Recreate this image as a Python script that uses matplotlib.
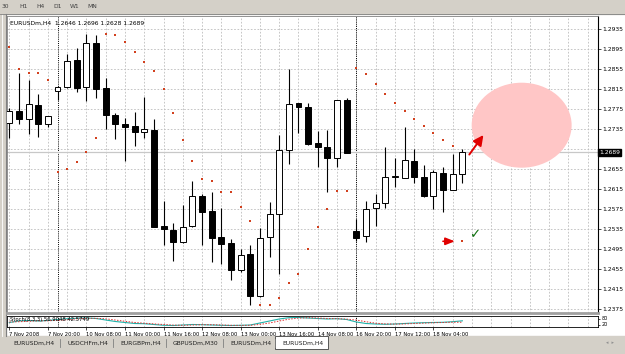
import matplotlib
matplotlib.use("Agg")
import matplotlib.pyplot as plt
from matplotlib.patches import Ellipse, Rectangle

# ---- data (EURUSDm, H4) ----
opens = [1.2748, 1.2772, 1.2756, 1.2784, 1.2745, 1.2812, 1.2820, 1.2873, 1.2819, 1.2907,
         1.2818, 1.2763, 1.2745, 1.2742, 1.2730, 1.2733, 1.2542, 1.2534, 1.2510, 1.2541,
         1.2602, 1.2571, 1.2519, 1.2508, 1.2454, 1.2485, 1.2401, 1.2519, 1.2565, 1.2693,
         1.2787, 1.2780, 1.2707, 1.2699, 1.2678, 1.2794, 1.2532, 1.2521, 1.2577, 1.2587,
         1.2639, 1.2637, 1.2672, 1.2640, 1.2601, 1.2647, 1.2613, 1.2646]
highs = [1.2778, 1.2848, 1.2834, 1.2806, 1.2762, 1.2822, 1.2885, 1.2897, 1.2925, 1.2924,
         1.2837, 1.2767, 1.2757, 1.2769, 1.2800, 1.2755, 1.2592, 1.2547, 1.2584, 1.2632,
         1.2605, 1.2610, 1.2577, 1.2516, 1.2496, 1.2504, 1.2537, 1.2589, 1.2723, 1.2855,
         1.2788, 1.2788, 1.2732, 1.2734, 1.2794, 1.2797, 1.2556, 1.2592, 1.2606, 1.2699,
         1.2678, 1.2740, 1.2695, 1.2663, 1.2654, 1.2660, 1.2686, 1.2696]
lows = [1.2717, 1.2745, 1.2726, 1.2720, 1.2740, 1.2794, 1.2817, 1.2810, 1.2792, 1.2797,
        1.2736, 1.2715, 1.2672, 1.2702, 1.2717, 1.2539, 1.2504, 1.2472, 1.2508, 1.2539,
        1.2503, 1.2470, 1.2465, 1.2434, 1.2450, 1.2384, 1.2399, 1.2480, 1.2446, 1.2666,
        1.2727, 1.2703, 1.2660, 1.2610, 1.2659, 1.2687, 1.2512, 1.2510, 1.2542, 1.2577,
        1.2619, 1.2637, 1.2628, 1.2599, 1.2576, 1.2569, 1.2613, 1.2628]
closes = [1.2772, 1.2755, 1.2785, 1.2745, 1.2761, 1.2819, 1.2871, 1.2818, 1.2907, 1.2816,
          1.2763, 1.2745, 1.2740, 1.2729, 1.2736, 1.2540, 1.2535, 1.2510, 1.2539, 1.2601,
          1.2570, 1.2517, 1.2506, 1.2453, 1.2483, 1.2402, 1.2517, 1.2565, 1.2694, 1.2786,
          1.2780, 1.2705, 1.2700, 1.2678, 1.2793, 1.2688, 1.2517, 1.2575, 1.2588, 1.2640,
          1.2641, 1.2674, 1.2640, 1.2601, 1.2649, 1.2614, 1.2645, 1.2689]
sar = [1.2900, 1.2856, 1.2848, 1.2848, 1.2833, 1.2650, 1.2656, 1.2670, 1.2690, 1.2718,
       1.2926, 1.2924, 1.2910, 1.2890, 1.2870, 1.2852, 1.2815, 1.2768, 1.2714, 1.2671,
       1.2636, 1.2631, 1.2610, 1.2610, 1.2580, 1.2552, 1.2384, 1.2384, 1.2398, 1.2427,
       1.2446, 1.2496, 1.2540, 1.2576, 1.2611, 1.2611, 1.2857, 1.2845, 1.2826, 1.2806,
       1.2788, 1.2772, 1.2756, 1.2742, 1.2728, 1.2714, 1.2702, 1.2511]
stoch_main = [40, 55, 60, 55, 60, 70, 78, 82, 85, 80, 65, 50, 40, 30, 28, 20, 12, 10, 15, 20,
              18, 15, 12, 10, 12, 15, 35, 55, 75, 88, 90, 85, 80, 75, 78, 70, 45, 30, 25, 22,
              25, 30, 35, 38, 40, 42, 48, 56.9]
stoch_signal = [45, 48, 52, 57, 57, 62, 68, 77, 82, 82, 77, 65, 52, 40, 33, 26, 20, 14, 12, 15,
                18, 18, 15, 12, 11, 12, 21, 35, 55, 73, 84, 88, 85, 80, 78, 74, 64, 48, 33, 26,
                24, 26, 30, 34, 38, 40, 43, 42.57]
price_ticks = [1.2375, 1.2415, 1.2455, 1.2495, 1.2535, 1.2575, 1.2615, 1.2655, 1.2695,
               1.2735, 1.2775, 1.2815, 1.2855, 1.2895, 1.2935]
time_bars = [0, 4, 8, 12, 16, 20, 24, 28, 32, 36, 40, 44]
time_labels = ["7 Nov 2008", "7 Nov 20:00", "10 Nov 08:00", "11 Nov 00:00", "11 Nov 16:00",
               "12 Nov 08:00", "13 Nov 00:00", "13 Nov 16:00", "14 Nov 08:00",
               "16 Nov 20:00", "17 Nov 12:00", "18 Nov 04:00"]
week_seps = [5, 36]
tabs = ["EURUSDm,H4", "USDCHFm,H4", "EURGBPm,H4", "GBPUSDm,M30", "EURUSDm,H4", "EURUSDm,H4"]
timeframes = ["30", "H1", "H4", "D1", "W1", "MN"]
last_price = closes[-1]

W, H = 625, 354
GREY = "#d4d0c8"
GRID = "#bdbdbd"
FS = 4.3
FS_SMALL = 3.8


def rect(x0, y0, x1, y1):
    # pixel box -> figure fraction
    return [x0 / W, 1 - y1 / H, (x1 - x0) / W, (y1 - y0) / H]


fig = plt.figure(figsize=(W / 100, H / 100), dpi=100)
fig.patch.set_facecolor("white")

# window chrome
bg = fig.add_axes([0, 0, 1, 1])
bg.set_xlim(0, W)
bg.set_ylim(H, 0)
bg.axis("off")
bg.add_patch(Rectangle((0, 0), W, 14, color=GREY))
bg.add_patch(Rectangle((0, 14), 6, 322, color=GREY))
bg.plot([6, 6], [14, 336], color="#808080", lw=0.8)
bg.plot([2, 2], [14, 336], color="white", lw=0.6)
bg.add_patch(Rectangle((0, 336), W, 18, color=GREY))
for i, tf in enumerate(timeframes):
    bg.text(2 + i * 17, 6, tf, fontsize=FS, color="#404040", va="center")
bg.plot([0, W], [14, 14], color="#808080", lw=0.6)

xmin, xmax = -0.24, 61.07
ymin, ymax = 1.23676, 1.29616

ax = fig.add_axes(rect(7, 16, 598, 313))
ax.set_xlim(xmin, xmax)
ax.set_ylim(ymin, ymax)
for t in price_ticks:
    ax.axhline(t, color=GRID, lw=0.6, ls=(0, (2, 2)), zorder=0)
for b in range(0, 62, 2):
    ax.axvline(b, color=GRID, lw=0.6, ls=(0, (2, 2)), zorder=0)
for b in week_seps:
    ax.axvline(b, color="black", lw=0.7, ls=(0, (1, 1.2)), zorder=1)
ax.axhline(last_price, color="#c8c8c8", lw=0.9, zorder=1)

ax.add_patch(Ellipse((53.15, 1.27432), 10.37, 0.017, facecolor="#ffc6c6", edgecolor="none", zorder=2))

idx = list(range(len(opens)))
ax.vlines(idx, lows, highs, color="black", lw=0.8, zorder=3)
for i in idx:
    o, c = opens[i], closes[i]
    bottom = min(o, c)
    h = max(abs(c - o), 0.00012)
    face = "white" if c >= o else "black"
    ax.bar(i, h, bottom=bottom, width=0.62, facecolor=face, edgecolor="black", lw=0.7, zorder=4)

ax.scatter(idx, sar, s=3.5, color="#d2401e", marker="s", lw=0, zorder=5)

# annotations drawn on the chart
ax.annotate("", xy=(49.35, 1.2728), xytext=(47.55, 1.2680),
            arrowprops=dict(arrowstyle="-|>,head_length=0.6,head_width=0.3", color="#e00000", lw=1.4), zorder=6)
ax.annotate("", xy=(46.5, 1.2511), xytext=(44.7, 1.2511),
            arrowprops=dict(arrowstyle="-|>,head_length=0.55,head_width=0.22", color="#e00000", lw=1.2), zorder=6)
ax.text(47.7, 1.2524, "\u2713", color="#107010", fontsize=9.5, ha="left", va="center", zorder=6)

ax.text(0.005, 0.985, "EURUSDm,H4  1.2646 1.2696 1.2628 1.2689", transform=ax.transAxes,
        fontsize=FS, va="top", ha="left")

ax.yaxis.tick_right()
ax.set_yticks(price_ticks)
# the 1.2695 level sits under the bid box, so its label is covered
ax.set_yticklabels(["" if abs(t - last_price) < 0.001 else f"{t:.4f}" for t in price_ticks])
ax.tick_params(axis="y", labelsize=FS, length=2, pad=1, width=0.5)
ax.set_xticks([])
for s in ["left", "top"]:
    ax.spines[s].set_color("#808080")
    ax.spines[s].set_linewidth(0.6)
ax.spines["right"].set_linewidth(0.8)
ax.spines["bottom"].set_color("#a0a0a0")
ax.spines["bottom"].set_linewidth(2.0)
ax.text(1.002, (last_price - ymin) / (ymax - ymin), f"{last_price:.4f}", transform=ax.transAxes,
        fontsize=FS, color="white", va="center", ha="left",
        bbox=dict(boxstyle="square,pad=0.15", facecolor="black", edgecolor="black"))

# stochastic subwindow
ax2 = fig.add_axes(rect(7, 316, 598, 327))
ax2.set_xlim(xmin, xmax)
ax2.set_ylim(-5, 105)
for b in range(0, 62, 2):
    ax2.axvline(b, color=GRID, lw=0.6, ls=(0, (2, 2)), zorder=0)
for b in week_seps:
    ax2.axvline(b, color="black", lw=0.7, ls=(0, (1, 1.2)), zorder=1)
ax2.plot(idx, stoch_main, color="#20b2aa", lw=0.8)
ax2.plot(idx, stoch_signal, color="#e03030", lw=0.7, ls=(0, (1.5, 1.5)))
ax2.text(0.005, 0.9, "Stoch(8,3,3) 56.9048 42.5749", transform=ax2.transAxes, fontsize=FS_SMALL, va="top")
ax2.yaxis.tick_right()
ax2.set_yticks([20, 80])
ax2.tick_params(axis="y", labelsize=3.5, length=1.5, pad=1, width=0.5)
ax2.set_xticks(time_bars)
ax2.set_xticklabels(time_labels)
ax2.tick_params(axis="x", labelsize=FS_SMALL, length=2, pad=1.5, width=0.5)
for lab in ax2.get_xticklabels():
    lab.set_ha("left")
for s in ax2.spines.values():
    s.set_linewidth(0.6)

# bottom tabs
tab_x = [13, 67, 120, 173, 230, 282]
for i, (tx, name) in enumerate(zip(tab_x, tabs)):
    if i == len(tabs) - 1:
        bg.add_patch(Rectangle((275, 336), 53, 13, facecolor="white", edgecolor="#404040", lw=0.6))
    else:
        bg.plot([tab_x[i + 1] - 7, tab_x[i + 1] - 7], [339, 347], color="#808080", lw=0.6)
    bg.text(tx, 343, name, fontsize=FS, va="center", color="#202020")
bg.text(606, 343, "\u25c2  \u25b8", fontsize=3.5, va="center", color="#909090")

fig.savefig("out.png", dpi=100)
